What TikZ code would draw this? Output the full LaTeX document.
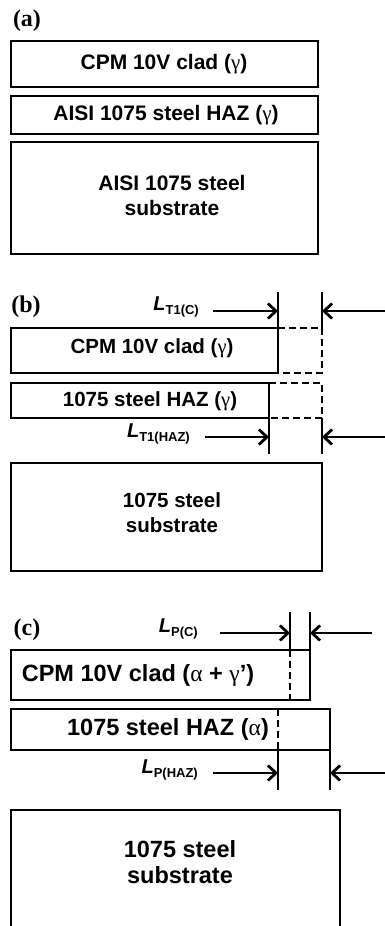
\documentclass[tikz,border=0pt]{standalone}
\usepackage{fontspec}
\setmainfont{Liberation Sans}
\newfontfamily\grk{Liberation Serif}
\usetikzlibrary{arrows.meta}
\newcommand{\gmm}{{\grk\mdseries\upshape γ}}
\newcommand{\alf}{{\grk\mdseries\upshape α}}
\newcommand{\Lsym}[1]{{\fontsize{20}{22}\selectfont\bfseries\itshape L}{\fontsize{13}{15}\selectfont\bfseries\raisebox{-4.5pt}{#1}}}
\begin{document}
\begin{tikzpicture}[x=1pt,y=-1pt,
  edge/.style={line width=2.8pt},
  dsh/.style={line width=2.8pt, dash pattern=on 7pt off 4pt},
  arr/.style={line width=2.8pt, -{Straight Barb[length=8pt,width=15pt]}},
  panel/.style={font=\grk\bfseries\fontsize{24}{26}\selectfont, inner sep=0pt},
  txta/.style={font=\bfseries\fontsize{21}{25}\selectfont, align=center, inner sep=0pt},
  txtb/.style={font=\bfseries\fontsize{20.5}{25}\selectfont, align=center, inner sep=0pt},
  txtc/.style={font=\bfseries\fontsize{23.5}{26}\selectfont, align=center, inner sep=0pt},
  lab/.style={inner sep=0pt, anchor=east}]
\useasboundingbox (0,0) rectangle (384,926);
\fill[white] (0,0) rectangle (384,926);

% ---------- (a)
\node[panel] (pa) at (27,21) {(a)};
\draw[edge] (11,41) rectangle (318,87);
\node[txta] (ta1) at (164,64) {CPM 10V clad (\gmm)};
\draw[edge] (11,96) rectangle (318,134);
\node[txta] (ta2) at (166,115) {AISI 1075 steel HAZ (\gmm)};
\draw[edge] (11,142) rectangle (318,254);
\node[txta] (ta3) at (172,195) {AISI 1075 steel\\substrate};

% ---------- (b)
\node[panel] (pb) at (26,307) {(b)};
\coordinate (b1t) at (278,292);
\coordinate (b1b) at (278,373);
\coordinate (b2t) at (322,292);
\coordinate (b2m) at (322,328);
\coordinate (b1a) at (278,311);
\coordinate (b2a) at (322,311);
\coordinate (bRa) at (386,311);
\coordinate (bLa) at (213,311);
\node[lab] (lt1c) at (199,307) {\Lsym{T1(C)}};
\draw[edge] (b1t) -- (b1b);
\draw[edge] (b2t) -- (b2m);
\draw[arr] (bLa) -- (b1a);
\draw[arr] (bRa) -- (b2a);
\draw[edge] (278,328) -- (11,328) -- (11,373) -- (278,373);
\draw[dsh] (278,328) -- (322,328) -- (322,373) -- (278,373);
\node[txtb] (tb1) at (152,348) {CPM 10V clad (\gmm)};
\draw[edge] (269,383) -- (11,383) -- (11,418) -- (269,418);
\draw[edge] (269,383) -- (269,454);
\draw[dsh] (269,383) -- (322,383) -- (322,418) -- (269,418);
\draw[edge] (322,418) -- (322,454);
\node[txtb] (tb2) at (150,401) {1075 steel HAZ (\gmm)};
\coordinate (b3a) at (269,437);
\coordinate (b4a) at (322,437);
\draw[arr] (205,437) -- (b3a);
\draw[arr] (386,437) -- (b4a);
\node[lab] (lt1h) at (190,434) {\Lsym{T1(HAZ)}};
\draw[edge] (11,463) rectangle (322,571);
\node[txtb] (tb3) at (172,513) {1075 steel\\substrate};

% ---------- (c)
\node[panel] (pc) at (27,630) {(c)};
\node[lab] (lpc) at (198,629) {\Lsym{P(C)}};
\coordinate (c1a) at (290,633);
\coordinate (c2a) at (310,633);
\draw[edge] (290,612) -- (290,650);
\draw[dsh] (290,650) -- (290,700);
\draw[edge] (310,612) -- (310,700) -- (11,700) -- (11,650) -- (310,650);
\draw[arr] (220,633) -- (c1a);
\draw[arr] (372,633) -- (c2a);
\node[txtc] (tc1) at (138,675) {CPM 10V clad (\alf\ + \gmm’)};
\draw[edge] (11,709) rectangle (330,750);
\draw[dsh] (278,709) -- (278,750);
\draw[edge] (278,750) -- (278,790);
\draw[edge] (330,750) -- (330,790);
\node[txtc] (tc2) at (168,729) {1075 steel HAZ (\alf)};
\coordinate (c3a) at (278,773);
\coordinate (c4a) at (330,773);
\draw[arr] (213,773) -- (c3a);
\draw[arr] (386,773) -- (c4a);
\node[lab] (lph) at (198,770) {\Lsym{P(HAZ)}};
\draw[edge] (11,930) -- (11,810) -- (340,810) -- (340,930);
\node[txtc] (tc3) at (180,862) {1075 steel\\substrate};
\end{tikzpicture}
\end{document}
